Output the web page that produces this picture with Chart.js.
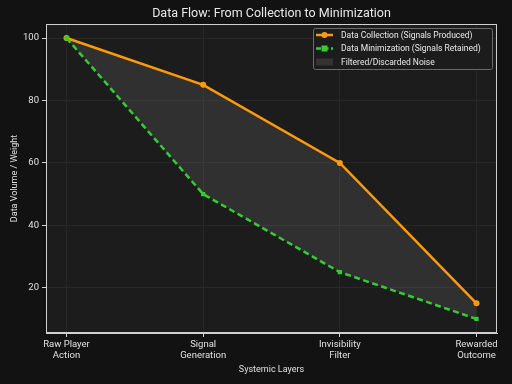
<!DOCTYPE html>
<html>
<head>
<meta charset="utf-8">
<script src="https://cdn.jsdelivr.net/npm/chart.js@4.4.1/dist/chart.umd.min.js"></script>
<style>
  html, body { margin: 0; padding: 0; background: #121212; }
  #wrap { width: 512px; height: 384px; }
</style>
</head>
<body>
<div id="wrap"><canvas id="flowChart" width="512" height="384"></canvas></div>
<script>
var layers = [["Raw Player", "Action"], ["Signal", "Generation"], ["Invisibility", "Filter"], ["Rewarded", "Outcome"]];
var collected = [100, 85, 60, 15];
var retained = [100, 50, 25, 10];
var yTicks = [20, 40, 60, 80, 100];

var legendItems = ["Data Collection (Signals Produced)", "Data Minimization (Signals Retained)", "Filtered/Discarded Noise"];

var FONT = "Roboto, 'Open Sans', sans-serif";
var orange = "#ff9a0d";
var green = "#33cc33";
var noise = "rgba(128,128,128,0.2)";

function toXY(arr) {
    return arr.map(function(v, i) { return {x: i, y: v}; });
}

// plot background, frame, title, legend
var decor = {
    id: 'decor',
    beforeDraw: function(chart) {
        var c = chart.ctx, a = chart.chartArea;
        c.save();
        c.fillStyle = "#121212";
        c.fillRect(0, 0, chart.width, chart.height);
        c.fillStyle = "#1c1c1c";
        c.fillRect(a.left, a.top, a.right - a.left, a.bottom - a.top);
        c.restore();
    },
    afterDraw: function(chart) {
        var c = chart.ctx, a = chart.chartArea;
        c.save();
        c.strokeStyle = "#d0d0d0";
        c.lineWidth = 1;
        c.strokeRect(a.left + 0.5, a.top + 0.5, a.right - a.left - 1, a.bottom - a.top - 1);

        c.fillStyle = "#e8e8e8";
        c.font = "12.5px " + FONT;
        c.textAlign = "center";
        c.textBaseline = "middle";
        c.fillText("Data Flow: From Collection to Minimization", (a.left + a.right) / 2, 14);

        // legend
        var bx = 313, by = 28, bw = 179, bh = 41;
        c.fillStyle = "rgba(28,28,28,0.85)";
        c.strokeStyle = "#6a6a6a";
        c.beginPath();
        c.roundRect(bx + 0.5, by + 0.5, bw, bh, 2);
        c.fill();
        c.stroke();

        var rows = [35, 48.5, 62];
        c.lineWidth = 2.5;
        c.strokeStyle = orange;
        c.beginPath(); c.moveTo(316, rows[0]); c.lineTo(333, rows[0]); c.stroke();
        c.fillStyle = orange;
        c.beginPath(); c.arc(324.5, rows[0], 3, 0, Math.PI * 2); c.fill();

        c.strokeStyle = green;
        c.setLineDash([5, 2.5]);
        c.beginPath(); c.moveTo(316, rows[1]); c.lineTo(333, rows[1]); c.stroke();
        c.setLineDash([]);
        c.fillStyle = green;
        c.fillRect(321.5, rows[1] - 3, 6, 6);

        c.fillStyle = "#333333";
        c.fillRect(316, rows[2] - 3.5, 17, 7);

        c.fillStyle = "#e8e8e8";
        c.font = "8.5px " + FONT;
        c.textAlign = "left";
        for (var i = 0; i < legendItems.length; i++) {
            c.fillText(legendItems[i], 341, rows[i] + 0.5);
        }
        c.restore();
    }
};

var ctx = document.getElementById("flowChart").getContext('2d');
var flowChart = new Chart(ctx, {
    type: 'scatter',
    data: {
        datasets: [{
            label: legendItems[0],
            data: toXY(collected),
            showLine: true,
            borderColor: orange,
            backgroundColor: orange,
            borderWidth: 2.5,
            pointStyle: 'circle',
            pointRadius: 3,
            pointBorderWidth: 0,
            fill: false,
            order: 1
        }, {
            label: legendItems[1],
            data: toXY(retained),
            showLine: true,
            borderColor: green,
            backgroundColor: green,
            borderWidth: 2.5,
            borderDash: [6, 3.5],
            pointStyle: 'rect',
            pointRadius: 3,
            pointBorderWidth: 0,
            fill: false,
            order: 0
        }, {
            label: legendItems[2],
            data: toXY(collected),
            showLine: true,
            borderWidth: 0,
            borderColor: 'rgba(0,0,0,0)',
            backgroundColor: noise,
            pointRadius: 0,
            fill: 1,
            order: 2
        }]
    },
    options: {
        responsive: false,
        animation: false,
        layout: { padding: { left: 9, top: 24, right: 15, bottom: 9 } },
        plugins: {
            legend: { display: false },
            title: { display: false },
            tooltip: { enabled: false },
            filler: { propagate: false }
        },
        scales: {
            x: {
                type: 'linear',
                min: -0.15,
                max: 3.15,
                afterBuildTicks: function(scale) {
                    scale.ticks = layers.map(function(l, i) { return {value: i}; });
                },
                afterFit: function(scale) { scale.height = 42; },
                ticks: {
                    color: "#e0e0e0",
                    font: { family: FONT, size: 9.5 },
                    padding: 2,
                    maxRotation: 0,
                    autoSkip: false,
                    callback: function(v) { return layers[v]; }
                },
                grid: { color: "#272727", tickColor: "#d0d0d0", tickLength: 4, lineWidth: 1 },
                border: { color: "#d0d0d0" },
                title: {
                    display: true,
                    text: "Systemic Layers",
                    color: "#e0e0e0",
                    font: { family: FONT, size: 9 },
                    padding: { top: 2, bottom: 0 }
                }
            },
            y: {
                type: 'linear',
                min: 5.5,
                max: 104.5,
                afterBuildTicks: function(scale) {
                    scale.ticks = yTicks.map(function(v) { return {value: v}; });
                },
                afterFit: function(scale) { scale.width = 37; },
                ticks: {
                    color: "#e0e0e0",
                    font: { family: FONT, size: 9.5 },
                    padding: 3
                },
                grid: { color: "#272727", tickColor: "#d0d0d0", tickLength: 4, lineWidth: 1 },
                border: { color: "#d0d0d0" },
                title: {
                    display: true,
                    text: "Data Volume / Weight",
                    color: "#e0e0e0",
                    font: { family: FONT, size: 9 },
                    padding: { top: 0, bottom: 2 }
                }
            }
        }
    },
    plugins: [decor]
});
</script>
</body>
</html>
